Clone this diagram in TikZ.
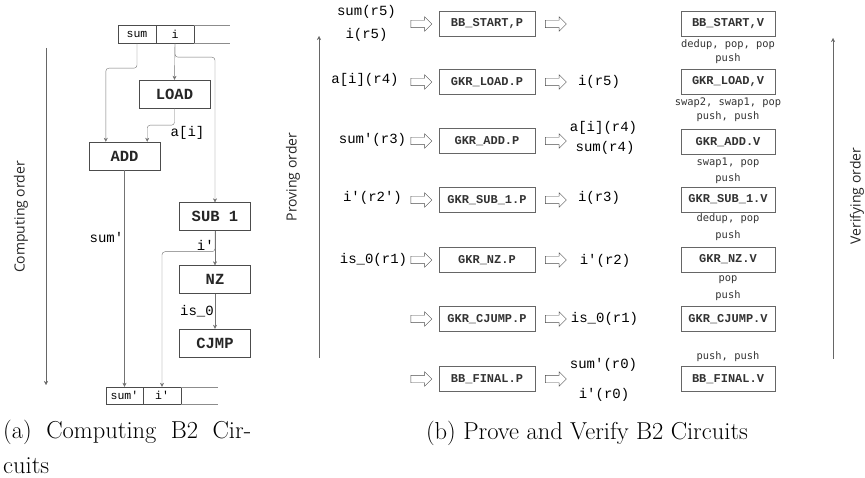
\documentclass[tikz,border=0pt]{standalone}
\usepackage{fontspec}
\newfontfamily\monofont{Liberation Mono}
\newfontfamily\notefont{DejaVu Sans Mono}
\newfontfamily\orderfont{Open Sans}
\usetikzlibrary{shapes.arrows,arrows.meta}
\tikzset{
 op/.style={draw=black!70,minimum width=71pt,minimum height=28pt,inner sep=0pt,font=\monofont\bfseries\fontsize{15.5}{15.5}\selectfont,text=black!85},
 cell/.style={draw=black!70,minimum height=18pt,inner sep=0pt,font=\monofont\fontsize{11.5}{11.5}\selectfont},
 rim/.style={draw=black!45},
 wire/.style={draw=black!55,rounded corners=3pt,-{Stealth[length=4pt,width=4pt]}},
 order/.style={draw=black!60,-{Stealth[length=4pt,width=4pt]}},
 lbl/.style={font=\monofont\fontsize{14}{14}\selectfont,inner sep=1pt},
 ordlbl/.style={font=\orderfont\fontsize{14}{14}\selectfont,text=black!85},
 pbox/.style={draw=black!60,minimum width=96pt,minimum height=25pt,inner sep=0pt,font=\monofont\bfseries\fontsize{12}{12}\selectfont,text=black!80},
 vbox/.style={pbox,minimum width=94pt},
 note/.style={font=\notefont\fontsize{10.4}{10.4}\selectfont,text=black!80,inner sep=0pt},
 hollow/.style={single arrow,draw=black!70,minimum height=21pt,inner sep=3.5pt,outer sep=0pt,single arrow head extend=3.5pt},
 capt/.style={font=\fontsize{24.5}{35}\selectfont,inner sep=0pt}
}
\newcommand{\prover}[3]{%
 \node[hollow] ({#1in}) at (419.5,{#2}) {};%
 \node[pbox] ({#1}) at (487,{#2}) {#3};%
 \node[hollow] ({#1out}) at (554,{#2}) {};%
}
\newcommand{\verifier}[3]{%
 \node[vbox] ({#1}) at (728,{#2}) {#3};%
}
\begin{document}
\begin{tikzpicture}[x=1pt,y=-1pt]
 \useasboundingbox (0,0) rectangle (865,478);
 % computing B2
 \node[cell,minimum width=38pt] (rSum) at (137,34) {sum};
 \node[cell,minimum width=38pt] (rI) at (175,34) {i};
 \coordinate (rEnd) at (230,34);
 \draw[rim] (rI.north east) -- (rI.north east -| rEnd) (rI.south east) -- (rI.south east -| rEnd);
 \node[op] (load) at (174.5,94) {LOAD};
 \node[op] (add) at (124.5,156) {ADD};
 \node[op] (sub) at (215,216.5) {SUB 1};
 \node[op] (nz) at (215,279.5) {NZ};
 \node[op] (cjmp) at (215,343) {CJMP};
 \node[cell,minimum width=37pt,minimum height=17pt] (wSum) at (124.5,395.5) {sum'};
 \node[cell,minimum width=38pt,minimum height=17pt] (wI) at (162,395.5) {i'};
 \coordinate (wEnd) at (218,395.5);
 \draw[rim] (wI.north east) -- (wI.north east -| wEnd) (wI.south east) -- (wI.south east -| wEnd);
 \draw[wire] (rSum.south) -- ++(0,25) -| ([xshift=17pt]add.north west);
 \draw[wire] (rI.south) -- (load.north);
 \draw[wire] (rI.south) -- ++(0,14) -| (sub.north);
 \draw[wire] (load.south) -- ++(0,17) node[lbl,anchor=north west,xshift=-5pt] {a[i]} -| ([xshift=-13pt]add.north east);
 \draw[wire] (add.south) -- node[lbl,pos=0.31,left] {sum'} (wSum.north);
 \draw[wire] (sub.south) -- (nz.north);
 \draw[wire] (sub.south) -- ++(0,21) node[lbl,above left] {i'} -| (wI.north);
 \draw[wire] (nz.south) -- node[lbl,left] {is\_0} (cjmp.north);
 \coordinate (cTop) at (46,48);
 \coordinate (cBot) at (46,385);
 \draw[order] (cTop) -- (cBot);
 \node[ordlbl,rotate=90] (cLbl) at (21,217) {Computing order};
 \node[capt,anchor=north west,text width=248pt,align=justify] (capA) at (3,420) {(a) Computing B2 Cir-\linebreak cuits};
 % prove and verify B2
 \coordinate (pTop) at (319,36);
 \coordinate (pBot) at (319,358);
 \draw[order] (pBot) -- (pTop);
 \node[ordlbl,rotate=90] (pLbl) at (293,177) {Proving order};
 \coordinate (vTop) at (833,38);
 \coordinate (vBot) at (833,359);
 \draw[order] (vBot) -- (vTop);
 \node[ordlbl,rotate=90] (vLbl) at (857,196) {Verifying order};
 \prover{p1}{24}{BB\_START,P}
 \prover{p2}{82}{GKR\_LOAD.P}
 \prover{p3}{141}{GKR\_ADD.P}
 \prover{p4}{200}{GKR\_SUB\_1.P}
 \prover{p5}{260}{GKR\_NZ.P}
 \prover{p6}{319}{GKR\_CJUMP.P}
 \prover{p7}{379}{BB\_FINAL.P}
 \verifier{v1}{24}{BB\_START,V}
 \verifier{v2}{82}{GKR\_LOAD,V}
 \verifier{v3}{142}{GKR\_ADD.V}
 \verifier{v4}{199.5}{GKR\_SUB\_1.V}
 \verifier{v5}{259.5}{GKR\_NZ.V}
 \verifier{v6}{319}{GKR\_CJUMP.V}
 \verifier{v7}{379}{BB\_FINAL.V}
 \node[lbl] (in1a) at (366.5,12) {sum(r5)};
 \node[lbl] (in1b) at (366.5,35) {i(r5)};
 \node[lbl] (in2) at (365,80) {a[i](r4)};
 \node[lbl] (in3) at (372.5,140) {sum'(r3)};
 \node[lbl] (in4) at (372.5,198) {i'(r2')};
 \node[lbl] (in5) at (373.5,260) {is\_0(r1)};
 \node[lbl] (out2) at (599,82) {i(r5)};
 \node[lbl] (out3a) at (603.5,128) {a[i](r4)};
 \node[lbl] (out3b) at (605,148) {sum(r4)};
 \node[lbl] (out4) at (599,198) {i(r3)};
 \node[lbl] (out5) at (605,261) {i'(r2)};
 \node[lbl] (out6) at (604.5,319) {is\_0(r1)};
 \node[lbl] (out7a) at (603.5,365) {sum'(r0)};
 \node[lbl] (out7b) at (604,395) {i'(r0)};
 \node[note] (n1a) at (728,45) {dedup, pop, pop};
 \node[note] (n1b) at (728,59) {push};
 \node[note] (n2a) at (728,103) {swap2, swap1, pop};
 \node[note] (n2b) at (728,117) {push, push};
 \node[note] (n3a) at (728,163) {swap1, pop};
 \node[note] (n3b) at (728,179) {push};
 \node[note] (n4a) at (728,219) {dedup, pop};
 \node[note] (n4b) at (728,236) {push};
 \node[note] (n5a) at (728,280) {pop};
 \node[note] (n5b) at (728,296) {push};
 \node[note] (n7) at (728,357) {push, push};
 \node[capt] (capB) at (587,433) {(b) Prove and Verify B2 Circuits};
\end{tikzpicture}
\end{document}
